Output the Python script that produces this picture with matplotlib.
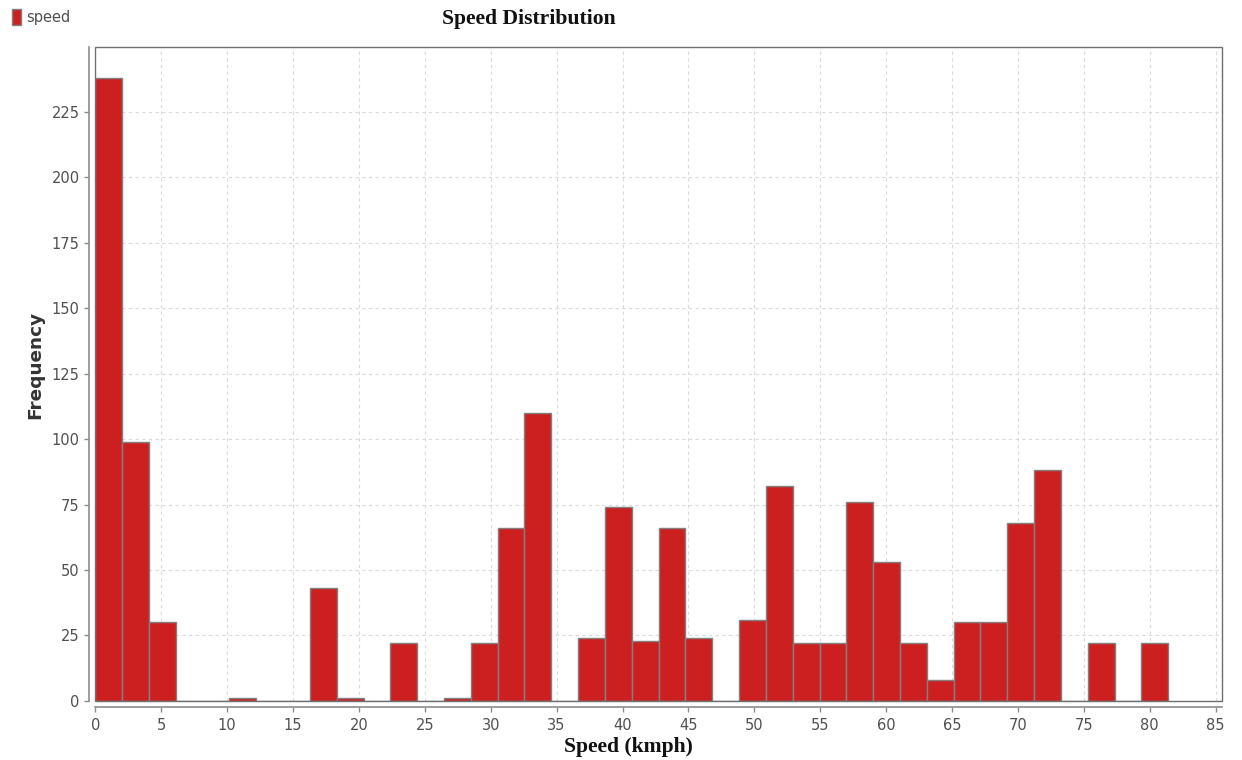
import matplotlib.pyplot as plt
import numpy as np
from matplotlib.patches import Patch, Rectangle

# histogram of speeds: 40 equal bins starting at 0 km/h
bin_width = 2.035
counts = [238, 99, 30, 0, 0, 1, 0, 0, 43, 1,
          0, 22, 0, 1, 22, 66, 110, 0, 24, 74,
          23, 66, 24, 0, 31, 82, 22, 22, 76, 53,
          22, 8, 30, 30, 68, 88, 0, 22, 0, 22]
x_ticks = list(range(0, 90, 5))
y_ticks = list(range(0, 250, 25))

bar_color = "#CC2020"
edge_color = "#808080"
text_color = "#505050"


def draw_speed_distribution():
    fig = plt.figure(figsize=(12.42, 7.6), dpi=100)
    ax = fig.add_axes([0.0767, 0.078, 0.9069, 0.8606])

    edges = np.arange(len(counts)) * bin_width
    ax.bar(edges, counts, width=bin_width, align="edge",
           color=bar_color, edgecolor=edge_color, linewidth=1.0, zorder=3)

    ax.set_xlim(0, 85.45)
    ax.set_ylim(0, 250)
    ax.set_xticks(x_ticks)
    ax.set_yticks(y_ticks)

    ax.grid(True, color="#DADADA", linestyle=(0, (3, 3)), linewidth=0.8, zorder=0)

    # offset axes like the original chart, plus a box round the plot area
    for side in ("top", "right"):
        ax.spines[side].set_visible(False)
    for side in ("left", "bottom"):
        ax.spines[side].set_position(("outward", 4.3))
        ax.spines[side].set_color("#8C8C8C")
        ax.spines[side].set_linewidth(1.2)
    ax.add_patch(Rectangle((0, 0), 1, 1, transform=ax.transAxes, fill=False,
                           edgecolor="#707070", linewidth=1.0, zorder=4,
                           clip_on=False))

    ax.tick_params(axis="both", colors="#8C8C8C", labelcolor=text_color,
                   length=3.5, width=1.0, labelsize=10.5)
    ax.tick_params(axis="x", pad=4.5)

    fig.text(529 / 1242, 1 - 19 / 760, "Speed Distribution", ha="center",
             va="center", family="Liberation Serif", fontweight="bold",
             fontsize=15.6, color="#111111")
    fig.text(628 / 1242, 1 - 747 / 760, "Speed (kmph)", ha="center",
             va="center", family="Liberation Serif", fontweight="bold",
             fontsize=15.6, color="#111111")
    fig.text(35 / 1242, 1 - 365 / 760, "Frequency", ha="center", va="center",
             rotation=90, family="DejaVu Sans", fontweight="bold",
             fontsize=13.3, color="#333333")

    handle = Patch(facecolor=bar_color, edgecolor=edge_color, linewidth=1.0)
    fig.legend([handle], ["speed"], loc="upper left",
               bbox_to_anchor=(-0.001, 1.005), frameon=False, fontsize=10.5,
               handlelength=0.6, handleheight=1.3, handletextpad=0.35,
               labelcolor=text_color)

    fig.savefig("out.png", dpi=100)
    plt.close(fig)


if __name__ == "__main__":
    draw_speed_distribution()
